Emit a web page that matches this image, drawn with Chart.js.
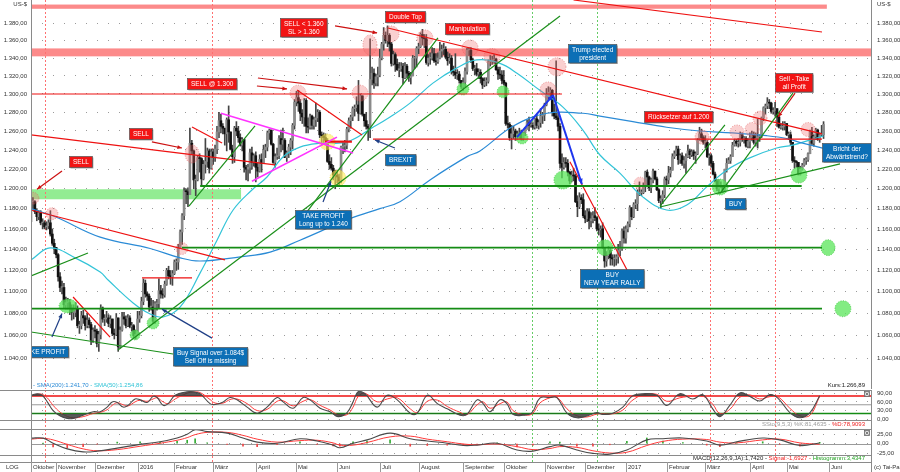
<!DOCTYPE html>
<html><head><meta charset="utf-8">
<script src="https://cdn.jsdelivr.net/npm/chart.js@4.4.1/dist/chart.umd.min.js"></script>
<style>
html,body{margin:0;padding:0;background:#fff;}
#wrap{position:relative;width:900px;height:472px;overflow:hidden;background:#fff;}
canvas{position:absolute;left:0;}
</style></head><body>
<div id="wrap">
<canvas id="main" width="900" height="389" style="top:0px"></canvas>
<canvas id="sto" width="900" height="39" style="top:390px"></canvas>
<canvas id="macd" width="900" height="43" style="top:429px"></canvas>
</div>
<script>
// ---------------- DATA ----------------
const firstOpen = 1167;
const closes = [
1187,1187,1177,1172,1176,1166,1166,1162,1163,1166,1155,1146,1142,
1135,1114,1104,1104,1088,1090,1090,1085,1081,1081,1084,1069,1069,1078,1076,1069,1074,1070,1056,1065,
1064,1053,1061,1085,1075,1075,1076,1071,1075,1062,1061,1076,1050,1065,1077,1075,1069,1076,1068,1069,1060,1061,
1075,1078,1091,1108,1098,1096,1086,1086,1073,1089,1089,1101,1098,1097,1107,1120,1115,1114,1117,
1128,1128,1141,1157,1173,1198,1197,1194,1247,1239,1209,1209,1232,1231,1210,1225,1228,1239,1221,1238,
1232,1241,1259,1271,1265,1263,1257,1272,1259,1241,1233,1263,1260,1253,1245,1251,1222,1220,1222,1237,1227,1234,
1222,1218,1230,1226,1240,1243,1258,1261,1246,1227,1233,1234,1252,1246,1250,1232,1237,1243,1250,1266,1291,
1296,1290,1279,1275,1293,1265,1264,1276,1266,1272,1274,1280,1256,1255,1253,1250,1228,1225,1221,1214,1214,
1212,1208,1243,1244,1245,1262,1271,1275,1284,1285,1288,1279,1298,1278,1271,1265,1263,1316,1323,1312,1319,1321,
1340,1356,1366,1360,1366,1356,1334,1344,1333,1327,1328,1331,1318,1331,1323,1318,1320,1340,1340,1351,
1353,1367,1363,1362,1335,1340,1340,1345,1337,1336,1340,1348,1350,1350,1341,1337,1340,1325,1324,1321,1322,1315,1308,
1313,1325,1349,1349,1338,1328,1328,1322,1324,1317,1310,1314,1314,1336,1336,1338,1339,1327,1322,1321,1315,
1312,1268,1267,1253,1257,1260,1254,1257,1257,1252,1258,1262,1269,1266,1266,1264,1273,1266,1269,1276,1277,
1288,1298,1302,1304,1280,1276,1274,1265,1226,1222,1227,1226,1217,1208,1214,1213,1187,1182,1191,1189,1173,
1170,1177,1168,1170,1173,1171,1160,1159,1160,1142,1129,1134,1139,1132,1131,1131,1133,1139,1141,1158,1151,
1160,1165,1181,1172,1184,1185,1196,1196,1196,1203,1217,1212,1201,1209,1218,1210,1199,1188,1190,1194,1210,
1209,1216,1219,1233,1236,1241,1230,1234,1226,1229,1233,1239,1235,1238,1234,1236,1250,1257,1253,1248,
1248,1233,1234,1226,1215,1208,1200,1203,1203,1199,1220,1226,1229,1233,1245,1249,1247,1248,1256,1252,1252,1244,1249,
1253,1256,1248,1252,1254,1254,1274,1285,1287,1291,1290,1281,1282,1284,1275,1264,1264,1265,1268,
1256,1256,1248,1229,1228,1227,1215,1220,1224,1229,1230,1236,1259,1247,1254,1261,1251,1256,1256,1267
];
const highs = [
1190,1191,1188,1180,1178,1178,1170,1168,1167,1169,1178,1160,1150,
1142,1136,1118,1110,1108,1095,1094,1093,1088,1088,1090,1087,1073,1082,1083,1078,1080,1076,1072,1067,
1069,1066,1064,1088,1086,1079,1082,1079,1078,1075,1066,1080,1073,1068,1081,1081,1078,1079,1078,1072,1070,1065,
1082,1082,1095,1112,1111,1100,1098,1094,1092,1091,1093,1112,1106,1103,1110,1122,1124,1120,1120,
1130,1131,1145,1159,1175,1201,1200,1201,1263,1250,1240,1214,1234,1236,1232,1229,1252,1242,1241,1241,
1241,1245,1265,1280,1278,1268,1261,1274,1287,1258,1245,1265,1270,1265,1257,1253,1249,1224,1225,1241,1243,1236,
1238,1226,1235,1236,1245,1246,1260,1262,1260,1247,1236,1242,1255,1261,1263,1252,1239,1246,1252,1268,1294,
1303,1304,1294,1283,1295,1295,1274,1278,1277,1275,1290,1283,1282,1259,1258,1257,1252,1235,1232,1224,1219,
1219,1215,1244,1248,1250,1264,1274,1277,1286,1288,1297,1315,1300,1296,1276,1280,1267,1362,1330,1328,1322,1330,
1350,1358,1375,1370,1377,1368,1358,1348,1346,1339,1335,1335,1334,1335,1333,1325,1324,1343,1342,1353,
1357,1369,1373,1367,1367,1344,1346,1352,1351,1345,1346,1358,1355,1357,1353,1347,1345,1343,1331,1345,1327,1325,1315,
1318,1329,1351,1352,1352,1340,1332,1334,1328,1327,1318,1318,1318,1338,1343,1342,1344,1340,1330,1330,1326,
1326,1313,1276,1269,1266,1265,1262,1260,1263,1261,1259,1264,1272,1275,1270,1269,1274,1278,1272,1284,1280,
1290,1306,1308,1307,1305,1289,1337,1280,1268,1236,1232,1232,1230,1218,1218,1221,1215,1193,1196,1194,1195,
1178,1180,1180,1176,1177,1181,1172,1165,1163,1166,1142,1138,1143,1142,1135,1135,1135,1145,1148,1160,1162,
1163,1167,1183,1181,1186,1189,1199,1207,1199,1206,1218,1219,1213,1211,1220,1218,1212,1200,1193,1198,1212,
1213,1223,1222,1236,1239,1244,1244,1236,1237,1233,1236,1245,1241,1240,1240,1238,1252,1264,1262,1255,
1255,1250,1236,1236,1228,1217,1209,1209,1207,1203,1220,1231,1232,1235,1248,1251,1251,1252,1259,1258,1254,1254,1252,
1258,1260,1259,1258,1273,1256,1275,1286,1289,1296,1294,1291,1285,1291,1280,1277,1268,1270,1270,
1268,1259,1259,1239,1233,1229,1227,1223,1226,1231,1232,1237,1261,1264,1256,1263,1262,1258,1266,1270
];
const lows = [
1165,1180,1175,1168,1169,1164,1160,1160,1159,1160,1153,1144,1136,
1132,1110,1100,1098,1085,1084,1084,1079,1074,1075,1077,1067,1062,1066,1071,1065,1067,1067,1052,1054,
1058,1050,1046,1057,1072,1069,1072,1068,1067,1060,1057,1060,1046,1049,1064,1070,1067,1068,1067,1064,1058,1057,
1061,1072,1076,1088,1095,1092,1082,1083,1071,1071,1083,1085,1094,1094,1095,1106,1112,1107,1106,
1116,1120,1121,1141,1145,1169,1185,1182,1194,1235,1200,1193,1208,1217,1203,1209,1216,1222,1216,1220,
1225,1228,1236,1253,1258,1257,1245,1239,1248,1240,1226,1227,1255,1248,1244,1239,1217,1209,1208,1216,1220,1223,
1207,1212,1217,1217,1226,1232,1239,1251,1245,1226,1222,1230,1231,1238,1240,1232,1228,1232,1235,1241,1262,
1287,1281,1271,1268,1265,1258,1258,1262,1262,1262,1265,1270,1253,1245,1246,1245,1227,1220,1219,1209,1200,
1206,1204,1206,1236,1238,1241,1259,1263,1271,1276,1281,1271,1278,1276,1265,1262,1250,1253,1310,1306,1309,1309,
1319,1338,1349,1357,1353,1348,1331,1332,1325,1326,1319,1325,1311,1317,1318,1314,1311,1320,1328,1330,
1345,1352,1355,1352,1333,1331,1333,1338,1335,1332,1334,1339,1341,1344,1339,1332,1334,1322,1320,1317,1316,1312,1306,
1304,1308,1322,1343,1335,1326,1321,1320,1317,1312,1306,1308,1309,1312,1331,1333,1334,1326,1316,1317,1311,
1310,1266,1263,1250,1241,1252,1250,1251,1252,1250,1250,1255,1262,1260,1264,1262,1262,1263,1262,1264,1268,
1271,1287,1294,1295,1276,1273,1272,1260,1221,1211,1220,1222,1213,1205,1207,1208,1186,1172,1180,1185,1171,
1166,1167,1160,1162,1166,1168,1158,1154,1152,1141,1123,1124,1131,1125,1125,1124,1125,1127,1134,1139,1146,
1146,1157,1162,1169,1171,1180,1178,1193,1193,1195,1197,1202,1198,1196,1206,1209,1198,1186,1181,1185,1191,
1204,1205,1212,1219,1231,1234,1225,1226,1224,1221,1216,1232,1231,1233,1230,1226,1235,1250,1249,1246,
1242,1232,1224,1222,1214,1207,1198,1195,1201,1196,1197,1217,1226,1226,1233,1244,1244,1243,1244,1249,1247,1243,1242,
1242,1250,1246,1244,1242,1249,1253,1271,1278,1284,1284,1279,1278,1276,1265,1263,1262,1261,1261,
1255,1251,1245,1227,1221,1222,1214,1214,1219,1223,1225,1228,1236,1245,1244,1251,1250,1248,1255,1252
];
const monthStarts = [0,13,33,55,74,94,116,137,158,180,200,223,244,265,286,307,328,348,371,390,412];
const monthLabels = ['Oktober','November','Dezember','2016','Februar','März','April','Mai','Juni','Juli','August','September','Oktober','November','Dezember','2017','Februar','März','April','Mai','Juni'];
const priceTicks = [1040,1060,1080,1100,1120,1140,1160,1180,1200,1220,1240,1260,1280,1300,1320,1340,1360,1380];

const sma200Days = [0,12.5,35.7,61.5,77,87.3,108,123.4,138.8,164.6,180,190.4,205.9,225,231.7,248.7,266.3,284.8,293.6,310.6,328,345,362,379.7,390,396.7,409];
const sma200Vals = [1180,1172,1152,1141,1132,1129,1133,1137.5,1149,1170,1180,1187,1209,1233,1239,1265,1279,1279,1276,1270,1264,1260,1258,1255,1252,1248,1241.7];
const sma50Days = [0,9.9,22.8,35.7,39.8,52.7,61.5,68.2,77,87.3,96,104.3,114,121.8,130,138.8,149.2,163,176.5,185.3,195.6,207.4,219.8,230,242,250.8,262.6,274.5,284.8,293.6,303.9,315.7,328,338.4,348.7,359,370.9,384.8,393,401.9,409];
const sma50Vals = [1130,1141.5,1132,1118.6,1111,1089.7,1079.6,1076.8,1086,1117.7,1149,1178.7,1198.8,1212,1232.6,1243,1247,1248.4,1264,1275,1290,1312,1329,1338,1334,1323,1304,1285.7,1261,1234.7,1216,1191.8,1178.7,1183.7,1201.9,1219,1231.7,1242,1245,1250.4,1254.86];

const stoDays = [0.1,3.2,5.8,8.4,11.4,15.1,18.7,21.8,26.9,32.1,35.7,39.3,41.9,44.5,47.6,50.1,53.7,56.3,59.9,63.0,65.1,68.2,70.8,74.4,80.6,83.7,87.3,92.4,95.0,99.2,102.7,106.3,111.5,116.7,121.8,127.0,130.1,135.3,140.4,144.0,149.2,154.3,158.4,163.1,166.2,168.8,172.4,178.6,183.8,189.0,195.7,199.3,204.5,209.7,214.8,221.4,225.0,230.2,233.3,236.9,242.1,245.6,248.7,253.9,258.5,262.6,267.8,271.4,276.6,281.7,286.9,292.0,295.1,300.3,305.4,310.1,315.8,323.0,328.1,334.8,341.5,346.7,351.8,355.5,360.6,365.8,371.0,376.1,381.3,385.4,391.6,396.8,402.0,407.0];
const stoK = [83,88,83,60,30,11,3,3,14,26,26,42,60,58,42,48,70,67,58,79,75,48,54,83,95,95,88,54,51,60,75,67,42,21,42,75,60,38,75,67,38,26,9,23,60,95,88,42,83,67,21,21,83,54,36,14,17,67,54,26,67,54,17,14,23,73,75,75,21,5,11,23,17,21,42,79,88,83,48,88,70,85,36,9,48,91,79,63,85,73,23,5,23,81.5];
const stoD = [80,86,86,74,48,24,10,5,9,20,24,33,48,57,50,46,60,66,62,70,74,60,54,70,90,94,92,68,56,56,68,70,54,30,34,62,64,46,62,68,48,32,16,16,42,78,90,60,70,74,36,24,62,66,44,24,16,50,60,38,54,60,30,16,18,56,74,76,36,12,8,18,19,19,32,64,84,86,62,74,80,80,52,20,34,76,84,70,78,78,38,12,14,78.9];
const stoTicks = [0,30,60,90];

const macdDays = [0.1,6.3,11.4,18.7,26.9,34.1,44.5,56.3,66.6,75.4,80.6,84.7,90.9,101.2,109.4,116.7,127.0,138.8,147.6,155.9,159.4,166.2,173.4,185.3,195.7,204.5,214.8,223.1,230.2,240.6,250.8,259.0,267.8,272.9,281.7,290.0,298.7,307.5,317.8,326.1,336.4,348.7,355.5,364.2,377.6,386.4,396.8,407.0];
const macdLine = [14.6,14.6,1,-14,-22,-20,-12,-2,5,15,25,37,32,28,15,4,1,13,7,-4,-11,1,10,28,13,7,1,-5,-4,1,-17,-20,-8,-4,-17,-26,-28,-17,10,13,15,7,-4,5,15,10,-5,1.74];
const macdSignal = [12,14,10,-2,-14,-19,-16,-7,1,9,16,24,30,30,22,12,4,8,9,2,-4,-4,3,18,20,12,5,-1,-3,-1,-8,-16,-13,-8,-10,-19,-25,-23,-5,6,12,11,4,2,10,12,2,-1.69];
const macdHist = [2.6,0.6,-9,-12,-8,-1,4,5,4,6,9,13,2,-2,-7,-8,-3,5,-2,-6,-7,5,7,10,-7,-5,-4,-4,-1,2,-9,-4,5,4,-7,-7,-3,6,15,7,3,-4,-8,3,5,-2,-7,3.43];
const macdTicks = [-25,0,25];

// annotation tables (data coordinates: day index, price)
const redBands = [[0,410.7,1397,1402],[0,434,1342,1351]];
const greenBands = [[0,108.4,1189.4,1199.5]];
const redVerticals = [7.2,93.4,350.4,384];
const greenVerticals = [258.5,292.1];
const redLines = [
 [0,1255.8,125.9,1224.4],[0,1178.7,100.1,1130],[21.7,1095.2,40.8,1058.7],[57.3,1113,83.1,1113],
 [83.1,1264.3,98.6,1247.3],[137.3,1304.4,170.8,1255.8],[184.2,1374.5,408.2,1256.9],
 [280,1407.4,408.2,1369.9],[278.1,1227.6,307.6,1120.4],[0,1300,274,1300],[176.5,1251.3,408.2,1251.3]
];
const redThick = [[151.7,1248.7,165.6,1248.7]];
const greenLines = [
 [44.9,1047.3,273,1388.5],[142.4,1176.7,210,1363],[81.5,1182.6,115.6,1265.5],[324.6,1181.7,417.5,1225.5],
 [324.6,1182.6,358.1,1266.6],[355.6,1195.4,393.2,1300.9],[0,1114.8,29.4,1136.7],[0,1063.3,73.3,1043.7]
];
const greenHLines = [[87.3,1202.8,397.7,1202.8],[77.9,1141.8,408.2,1141.8],[0,1084.4,408.2,1084.4]];
const magentaLines = [[98,1279,166.2,1236.8],[114,1207.7,157.9,1253.5]];
const redArrows = [
 [16,1218.1,3.1,1199.5],[62.4,1248.4,77.9,1242],[116.6,1308.8,132.1,1305.6],[117.1,1317.7,163.1,1305.6],
 [156.9,1376.9,178.6,1368.8],[394.3,1300.9,385.5,1275]
];
const navyArrows = [[10.8,1058.7,16,1080],[93.4,1057.8,67.6,1084],[150.7,1186.7,154.8,1207.7],[187.8,1242,177.5,1250.5]];
const blueArrows = [[250.8,1253.5,269.4,1298.8],[269.4,1298.8,284.3,1204.6]];
const pinkCircles = [
 [1,1190.4,6,6],[10.8,1175,6,6],[77.9,1141,6,6],[83.1,1235.8,7,9],[137.8,1300.9,8,8],[169.8,1300.9,8,8],
 [174.9,1355,7,10],[185.8,1367.6,8,8],[203.3,1363,8,8],[226.6,1351.5,8,8],[237.9,1341.8,8,8],
 [266.8,1304.4,8,8],[271.4,1330.2,9,9],[314.3,1205.7,6,6],[346.3,1253.5,7,7],[364.3,1259,7,7],
 [372.1,1261.6,7,7],[376.2,1273.9,7,7],[401,1261.6,7,7]
];
const greenCircles = [
 [19.1,1086.9,9,7],[53.7,1060.6,5,5],[63,1071.4,6,6],[222.9,1305.5,6,6],[243.6,1302.4,6,6],[253.4,1252.6,6,6],
 [274.5,1208.9,9,9],[296.2,1141.8,8,8],[355.6,1201.7,8,8],[396.3,1214,8,8],[411.3,1141.8,7,8],[419,1084.4,8,8]
];
const yellowCircles = [[152.8,1248.4,8,8],[158.4,1210.9,8,8]];
const redBoxes = [
 {d:25.3,p:1227.6,t:['SELL']},{d:56.5,p:1257.4,t:['SELL']},{d:93.4,p:1312,t:['SELL @ 1.300']},
 {d:140.6,p:1375.1,t:['SELL < 1.360','SL > 1.360']},{d:193,p:1387.4,t:['Double Top']},
 {d:225,p:1374.5,t:['Manipulation']},{d:333.9,p:1275,t:['Rücksetzer auf 1.200']},
 {d:393.7,p:1312.6,t:['Sell - Take','all Profit']}
];
const blueBoxes = [
 {d:289.8,p:1345,t:['Trump elected','president']},{d:190.4,p:1230.2,t:['BREXIT']},
 {d:150.7,p:1169.9,t:['TAKE PROFIT','Long up to 1.240']},{d:299.8,p:1113,t:['BUY','NEW YEAR RALLY']},
 {d:363.3,p:1185,t:['BUY']},{d:420.6,p:1237.8,t:['Bricht der','Abwärtstrend?']},
 {d:92.4,p:1041.7,t:['Buy Signal over 1.084$','Sell Off is missing']},{d:6.7,p:1045.9,t:['TAKE PROFIT']}
];

// ---------------- HELPERS ----------------
const FONT = "'Liberation Sans', Arial, sans-serif";
const X_MIN = 0, X_MAX = 434;
function deFmt(v, dec){
  const s = Math.abs(v).toFixed(dec); let parts = s.split('.');
  let i = parts[0].replace(/\B(?=(\d{3})+(?!\d))/g,'.');
  return (v<0?'-':'') + i + (parts[1] ? ','+parts[1] : '');
}
function seg(ctx,x1,y1,x2,y2,color,w,dash){ctx.save();ctx.strokeStyle=color;ctx.lineWidth=w;ctx.setLineDash(dash||[]);ctx.beginPath();ctx.moveTo(x1,y1);ctx.lineTo(x2,y2);ctx.stroke();ctx.restore();}
function head(ctx,x1,y1,x2,y2,color,size){const a=Math.atan2(y2-y1,x2-x1);ctx.save();ctx.fillStyle=color;ctx.beginPath();ctx.moveTo(x2,y2);ctx.lineTo(x2-size*Math.cos(a-0.42),y2-size*Math.sin(a-0.42));ctx.lineTo(x2-size*Math.cos(a+0.42),y2-size*Math.sin(a+0.42));ctx.closePath();ctx.fill();ctx.restore();}
function ell(ctx,x,y,rx,ry,fill,stroke){ctx.save();ctx.beginPath();ctx.ellipse(x,y,rx,ry,0,0,Math.PI*2);ctx.fillStyle=fill;ctx.fill();ctx.setLineDash([1,1.5]);ctx.strokeStyle=stroke;ctx.lineWidth=0.8;ctx.stroke();ctx.restore();}
function boxLabel(ctx,cx,cy,lines,bg){
  ctx.save(); ctx.font='6.5px '+FONT;
  const w = Math.max(...lines.map(l=>ctx.measureText(l).width))+7;
  const lh=7.5, h=lines.length*lh+3.5;
  const x=Math.round(cx-w/2)+0.5, y=Math.round(cy-h/2)+0.5;
  ctx.fillStyle='rgba(0,0,0,0.35)'; ctx.fillRect(x+1,y+1,w,h);
  ctx.fillStyle=bg; ctx.fillRect(x,y,w,h);
  ctx.strokeStyle='#555'; ctx.lineWidth=0.7; ctx.strokeRect(x,y,w,h);
  ctx.fillStyle='#fff'; ctx.textAlign='center'; ctx.textBaseline='middle';
  lines.forEach((l,i)=>ctx.fillText(l, x+w/2, y+2+lh*i+lh/2));
  ctx.restore();
}
function txt(ctx,s,x,y,color,align){ctx.save();ctx.font='6px '+FONT;ctx.fillStyle=color;ctx.textAlign=align||'left';ctx.textBaseline='middle';ctx.fillText(s,x,y);ctx.restore();}
function multiTxtRight(ctx,parts,xr,y){ctx.save();ctx.font='6px '+FONT;ctx.textBaseline='middle';let x=xr;for(let i=parts.length-1;i>=0;i--){const w=ctx.measureText(parts[i][0]).width;x-=w;ctx.fillStyle=parts[i][1];ctx.textAlign='left';ctx.fillText(parts[i][0],x,y);}ctx.restore();}
function clipArea(ctx,a){ctx.save();ctx.beginPath();ctx.rect(a.left,a.top,a.right-a.left,a.bottom-a.top);ctx.clip();}
function verticals(chart, top, bottom){
  const ctx=chart.ctx, X=chart.scales.x;
  redVerticals.forEach(d=>{const x=Math.round(X.getPixelForValue(d))+0.5;seg(ctx,x,top,x,bottom,'#ff7070',1,[2,2]);});
  greenVerticals.forEach(d=>{const x=Math.round(X.getPixelForValue(d))+0.5;seg(ctx,x,top,x,bottom,'#66cc66',1,[2,2]);});
}
function panelFrame(chart, h){
  const ctx=chart.ctx, a=chart.chartArea;
  seg(ctx,0,a.top+0.5,a.right,a.top+0.5,'#8a8a8a',1);
  seg(ctx,0,a.bottom-0.5,a.right,a.bottom-0.5,'#8a8a8a',1);
  seg(ctx,a.left+0.5,0,a.left+0.5,h,'#8a8a8a',1);
  seg(ctx,a.right-0.5,0,a.right-0.5,h,'#8a8a8a',1);
  // small icon
  ctx.save(); ctx.strokeStyle='#666'; ctx.lineWidth=0.8; ctx.fillStyle='#ddd';
  const ix=a.right-7.5, iy=a.top+1.5; ctx.fillRect(ix,iy,5,5); ctx.strokeRect(ix,iy,5,5);
  ctx.beginPath(); ctx.moveTo(ix+1,iy+1); ctx.lineTo(ix+4,iy+4); ctx.moveTo(ix+4,iy+1); ctx.lineTo(ix+1,iy+4); ctx.stroke(); ctx.restore();
}
function yAxis(pos, min, max, ticks, dec, width, grid, type){
  return {
    type: type||'linear', position: pos, min: min, max: max,
    afterBuildTicks: s => { s.ticks = ticks.map(v=>({value:v})); },
    afterFit: s => { s.width = width; s.paddingTop = 0; s.paddingBottom = 0; },
    ticks: { callback: v => deFmt(v, dec), padding: pos==='left'?4:5, font:{size:6, family:FONT}, color:'#333', autoSkip:false },
    grid: { display: grid, color:'#9a9a9a', lineWidth:1, drawTicks:false },
    border: { display:false, dash:[1,10] }
  };
}

Chart.defaults.animation = false;
Chart.defaults.font.family = FONT;
Chart.defaults.plugins.legend.display = false;
Chart.defaults.plugins.tooltip.enabled = false;

// ---------------- MAIN PRICE CHART ----------------
const wick=[], body=[], bodyCol=[];
const N = Math.min(closes.length, highs.length, lows.length);
for(let i=0;i<N;i++){
  const o = i===0 ? firstOpen : closes[i-1], c = closes[i];
  const lo = Math.min(lows[i],o,c), hi = Math.max(highs[i],o,c);
  wick.push({x:i, y:[lo,hi]});
  let b0=Math.min(o,c), b1=Math.max(o,c); if(b1-b0<0.8) b1=b0+0.8;
  body.push({x:i, y:[b0,b1]});
  bodyCol.push(c>=o ? '#8a8a8a' : '#111111');
}
const sma200 = sma200Days.map((d,i)=>({x:d,y:sma200Vals[i]}));
const sma50 = sma50Days.map((d,i)=>({x:d,y:sma50Vals[i]}));

const mainAnnot = {
  id:'mainAnnot',
  beforeDatasetsDraw(chart){
    const ctx=chart.ctx, a=chart.chartArea, X=chart.scales.x, Y=chart.scales.y;
    clipArea(ctx,a);
    redBands.forEach(b=>{const x1=X.getPixelForValue(b[0]),x2=X.getPixelForValue(b[1]),y1=Y.getPixelForValue(b[3]),y2=Y.getPixelForValue(b[2]);ctx.fillStyle='rgba(250,60,60,0.6)';ctx.fillRect(x1,y1,x2-x1,y2-y1);});
    greenBands.forEach(b=>{const x1=X.getPixelForValue(b[0]),x2=X.getPixelForValue(b[1]),y1=Y.getPixelForValue(b[3]),y2=Y.getPixelForValue(b[2]);ctx.fillStyle='rgba(110,230,110,0.75)';ctx.fillRect(x1,y1,x2-x1,y2-y1);});
    verticals(chart,a.top,a.bottom);
    ctx.restore();
  },
  afterDatasetsDraw(chart){
    const ctx=chart.ctx, a=chart.chartArea, X=chart.scales.x, Y=chart.scales.y;
    const fx=v=>X.getPixelForValue(v), fy=v=>Y.getPixelForValue(v);
    clipArea(ctx,a);
    pinkCircles.forEach(c=>ell(ctx,fx(c[0]),fy(c[1]),c[2],c[3],'rgba(240,110,110,0.32)','rgba(225,90,90,0.75)'));
    yellowCircles.forEach(c=>ell(ctx,fx(c[0]),fy(c[1]),c[2],c[3],'rgba(255,235,80,0.6)','rgba(220,200,40,0.8)'));
    greenCircles.forEach(c=>ell(ctx,fx(c[0]),fy(c[1]),c[2],c[3],'rgba(90,230,90,0.75)','rgba(50,190,50,0.9)'));
    redLines.forEach(l=>seg(ctx,fx(l[0]),fy(l[1]),fx(l[2]),fy(l[3]),'#ee1111',1.2));
    redThick.forEach(l=>seg(ctx,fx(l[0]),fy(l[1]),fx(l[2]),fy(l[3]),'#ee1111',2.2));
    greenHLines.forEach(l=>seg(ctx,fx(l[0]),fy(l[1]),fx(l[2]),fy(l[3]),'#148c14',1.8));
    greenLines.forEach(l=>seg(ctx,fx(l[0]),fy(l[1]),fx(l[2]),fy(l[3]),'#1a8f1a',1.2));
    magentaLines.forEach(l=>seg(ctx,fx(l[0]),fy(l[1]),fx(l[2]),fy(l[3]),'#ff33ff',1.6));
    redArrows.forEach(l=>{const x1=fx(l[0]),y1=fy(l[1]),x2=fx(l[2]),y2=fy(l[3]);seg(ctx,x1,y1,x2,y2,'#cc1111',1.2);head(ctx,x1,y1,x2,y2,'#cc1111',5);});
    navyArrows.forEach(l=>{const x1=fx(l[0]),y1=fy(l[1]),x2=fx(l[2]),y2=fy(l[3]);seg(ctx,x1,y1,x2,y2,'#1f3f86',1.2);head(ctx,x1,y1,x2,y2,'#1f3f86',5);});
    blueArrows.forEach(l=>{const x1=fx(l[0]),y1=fy(l[1]),x2=fx(l[2]),y2=fy(l[3]);seg(ctx,x1,y1,x2,y2,'#1e35ee',2);head(ctx,x1,y1,x2,y2,'#1e35ee',6);});
    redBoxes.forEach(b=>boxLabel(ctx,fx(b.d),fy(b.p),b.t,'#f21414'));
    blueBoxes.forEach(b=>boxLabel(ctx,fx(b.d),fy(b.p),b.t,'#0c6fb6'));
    ctx.restore();
  },
  afterDraw(chart){
    const ctx=chart.ctx, a=chart.chartArea;
    seg(ctx,a.left+0.5,0,a.left+0.5,a.bottom,'#8a8a8a',1);
    seg(ctx,a.right-0.5,0,a.right-0.5,a.bottom,'#8a8a8a',1);
    txt(ctx,'US-$',27,4,'#333','right');
    txt(ctx,'US-$',877,4,'#333','left');
    ctx.save(); ctx.font='6px '+FONT; ctx.textBaseline='middle';
    const s1='- SMA(200):1.241,70', s2=' - SMA(50):1.254,86';
    ctx.fillStyle='#2b8bd6'; ctx.fillText(s1,33,385);
    ctx.fillStyle='#2fc3d6'; ctx.fillText(s2,33+ctx.measureText(s1).width,385);
    ctx.restore();
    txt(ctx,'Kurs:1.266,89',865,385,'#222','right');
  }
};

new Chart(document.getElementById('main'), {
  type:'bar',
  data:{datasets:[
    {type:'line', data:sma200, borderColor:'#2b8bd6', borderWidth:1.2, pointRadius:0, tension:0.4, order:0},
    {type:'line', data:sma50, borderColor:'#33c4d8', borderWidth:1.2, pointRadius:0, tension:0.4, order:0},
    {data:body, backgroundColor:bodyCol, barThickness:2, grouped:false, order:1},
    {data:wick, backgroundColor:'#444', barThickness:1, grouped:false, order:2}
  ]},
  options:{
    responsive:false, devicePixelRatio:1,
    layout:{padding:0},
    scales:{
      x:{type:'linear', min:X_MIN, max:X_MAX, display:false, offset:false},
      y:yAxis('left',1013.3,1407.4,priceTicks,2,31,true,'logarithmic'),
      y2:yAxis('right',1013.3,1407.4,priceTicks,2,28,false,'logarithmic')
    }
  },
  plugins:[mainAnnot]
});

// ---------------- STOCHASTIC ----------------
const kPts = stoDays.map((d,i)=>({x:d,y:stoK[i]}));
const dPts = stoDays.map((d,i)=>({x:d,y:stoD[i]}));
const stoPlugin = {
  id:'stoPlugin',
  beforeDatasetsDraw(chart){
    const ctx=chart.ctx, a=chart.chartArea, Y=chart.scales.y;
    clipArea(ctx,a);
    verticals(chart,a.top,a.bottom);
    seg(ctx,a.left,Y.getPixelForValue(50),a.right,Y.getPixelForValue(50),'#9a9a9a',1);
    seg(ctx,a.left,Y.getPixelForValue(80),a.right,Y.getPixelForValue(80),'#ee1111',1.5);
    seg(ctx,a.left,Y.getPixelForValue(20),a.right,Y.getPixelForValue(20),'#148c14',1.5);
    ctx.restore();
  },
  afterDraw(chart){
    const ctx=chart.ctx, a=chart.chartArea;
    verticals(chart,a.bottom,39);
    panelFrame(chart,39);
    multiTxtRight(ctx,[['SSto(9,5,3) %K:81,4635 - ','#9a9a9a'],['%D:78,9093','#ee2222']],865,34);
  }
};
new Chart(document.getElementById('sto'), {
  type:'line',
  data:{datasets:[
    {data:kPts, borderColor:'#4a4a4a', borderWidth:1.1, pointRadius:0, tension:0.4, fill:{target:{value:80}, above:'rgba(60,60,60,0.85)', below:'rgba(0,0,0,0)'}},
    {data:kPts, borderColor:'rgba(0,0,0,0)', borderWidth:0, pointRadius:0, tension:0.4, fill:{target:{value:20}, above:'rgba(0,0,0,0)', below:'rgba(60,60,60,0.85)'}},
    {data:dPts, borderColor:'#ff3a3a', borderWidth:1, pointRadius:0, tension:0.4, fill:false}
  ]},
  options:{
    responsive:false, devicePixelRatio:1,
    layout:{padding:{left:31,right:0,top:0,bottom:8}},
    scales:{
      x:{type:'linear', min:X_MIN, max:X_MAX, display:false},
      y:yAxis('right',-6,101,stoTicks,2,28,true)
    }
  },
  plugins:[stoPlugin]
});

// ---------------- MACD ----------------
const macdPts = macdDays.map((d,i)=>({x:d,y:macdLine[i]}));
const sigPts = macdDays.map((d,i)=>({x:d,y:macdSignal[i]}));
const histPts = macdDays.map((d,i)=>({x:d,y:macdHist[i]}));
const macdPlugin = {
  id:'macdPlugin',
  beforeDatasetsDraw(chart){
    const ctx=chart.ctx, a=chart.chartArea, Y=chart.scales.y;
    clipArea(ctx,a);
    verticals(chart,a.top,a.bottom);
    seg(ctx,a.left,Math.round(Y.getPixelForValue(0))+0.5,a.right,Math.round(Y.getPixelForValue(0))+0.5,'#9a9a9a',1);
    ctx.restore();
  },
  afterDraw(chart){
    const ctx=chart.ctx, a=chart.chartArea, X=chart.scales.x;
    verticals(chart,a.bottom,33);
    panelFrame(chart,43);
    seg(ctx,0,33.5,a.right,33.5,'#8a8a8a',1);
    multiTxtRight(ctx,[['MACD(12,26,9,JA):1,7420 - ','#222'],['Signal:-1,6927 - ','#ee2222'],['Histogramm:3,4347','#22a022']],865,29.5);
    monthStarts.forEach((d,i)=>{
      const x=Math.round(X.getPixelForValue(d))+0.5;
      seg(ctx,x,33,x,43,'#9a9a9a',1);
      txt(ctx,monthLabels[i],x+1.5,38.8,'#333','left');
    });
    txt(ctx,'LOG',6,38.8,'#333','left');
    txt(ctx,'(c) Tai-Pan',874,38.8,'#333','left');
  }
};
new Chart(document.getElementById('macd'), {
  type:'line',
  data:{datasets:[
    {type:'bar', data:histPts, backgroundColor:macdHist.map(v=>v>=0?'#33aa33':'#ee4444'), barThickness:1, order:3},
    {data:macdPts, borderColor:'#4a4a4a', borderWidth:1.1, pointRadius:0, tension:0.4, order:1},
    {data:sigPts, borderColor:'#ff3a3a', borderWidth:1, pointRadius:0, tension:0.4, order:2}
  ]},
  options:{
    responsive:false, devicePixelRatio:1,
    layout:{padding:{left:31,right:0,top:0,bottom:16}},
    scales:{
      x:{type:'linear', min:X_MIN, max:X_MAX, display:false, offset:false},
      y:yAxis('right',-33,39,macdTicks,2,28,true)
    }
  },
  plugins:[macdPlugin]
});
</script>
</body></html>
